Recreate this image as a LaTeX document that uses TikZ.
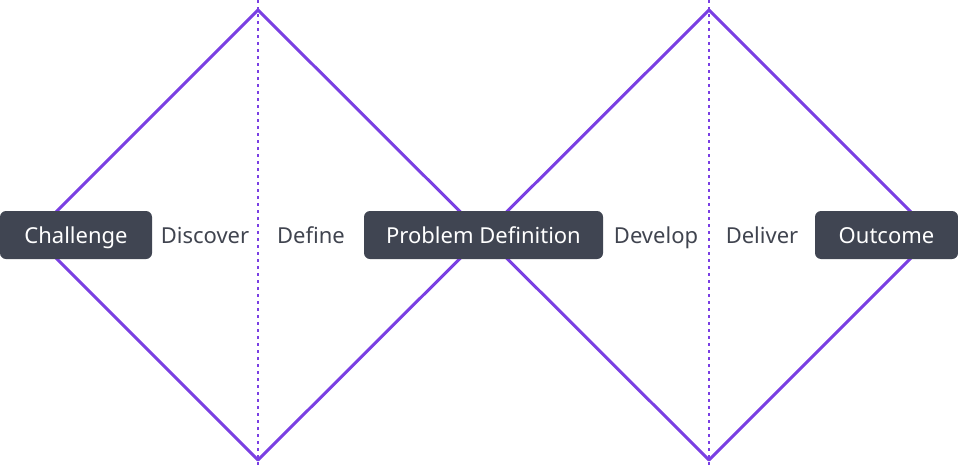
\documentclass[tikz,border=0pt]{standalone}
\usepackage{fontspec}
\setmainfont{Noto Sans}
\definecolor{diamond}{HTML}{7A3FE3}
\definecolor{boxgray}{HTML}{404552}
\definecolor{labelgray}{HTML}{40444F}
\tikzset{
  phase/.style={draw=diamond, line width=3pt, line join=round},
  divider/.style={draw=diamond, line width=1.6pt, dash pattern=on 3pt off 4pt},
  stage/.style={fill=boxgray, text=white, rounded corners=6pt, minimum height=48pt, inner sep=0pt,
    text height=16pt, text depth=0pt, font=\fontsize{22}{26}\selectfont},
  step label/.style={text=labelgray, inner sep=0pt, text height=16pt, text depth=0pt,
    font=\fontsize{22}{26}\selectfont}
}
\begin{document}
\begin{tikzpicture}[x=1pt, y=-1pt]
\useasboundingbox (0,0) rectangle (958,466);
%\draw[help lines] (0,0) grid[step=50] (958,466);
% diamond corners
\coordinate (t1) at (258,10);
\coordinate (b1) at (258,460);
\coordinate (l1) at (33,235);
\coordinate (m) at (483.5,235);
\coordinate (t2) at (709,10);
\coordinate (b2) at (709,460);
\coordinate (r2) at (934,235);
\coordinate (top1) at (258,0);
\coordinate (bot1) at (258,466);
\coordinate (top2) at (709,0);
\coordinate (bot2) at (709,466);
\draw[divider] (top1) -- (bot1);
\draw[divider] (top2) -- (bot2);
\draw[phase] (l1) -- (t1) -- (m) -- (b1) -- cycle;
\draw[phase] (m) -- (t2) -- (r2) -- (b2) -- cycle;
% boxes
\node[stage, minimum width=152pt] (challenge) at (76,235) {Challenge};
\node[stage, minimum width=239pt] (problem) at (483.5,235) {Problem Definition};
\node[stage, minimum width=143pt] (outcome) at (886.5,235) {Outcome};
% phase labels
\node[step label] (discover) at (205,235) {Discover};
\node[step label] (define) at (311,235) {Define};
\node[step label] (develop) at (656,235) {Develop};
\node[step label] (deliver) at (762,235) {Deliver};
\end{tikzpicture}
\end{document}
